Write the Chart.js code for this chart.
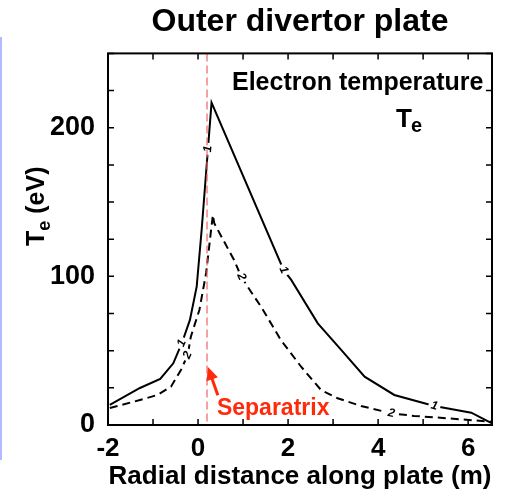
<!DOCTYPE html>
<html lang="en">
<head>
<meta charset="UTF-8">
<title>Outer divertor plate</title>
<style>
  body { margin: 0; padding: 0; background: #fff; }
  #chart { display: block; }
</style>
</head>
<body>
<canvas id="chart" width="510" height="496"></canvas>
<script src="https://cdn.jsdelivr.net/npm/chart.js"></script>
<script>
// values
var solidX = [-1.96, -1.29, -0.84, -0.55, -0.36, -0.18, -0.03, 0.08, 0.25, 0.30, 1.90, 2.07, 2.66, 3.18, 3.70, 4.36, 5.25, 6.07, 6.53];
var solidY = [13.5, 24.9, 31.0, 41.5, 55.0, 70.7, 93.1, 131.2, 197.4, 216.9, 104.3, 97.6, 68.4, 50.5, 32.5, 20.2, 12.8, 8.3, 1.1];

var dashX = [-1.96, -1.29, -0.90, -0.60, -0.38, -0.23, -0.16, 0.03, 0.18, 0.29, 0.33, 0.36, 0.80, 0.96, 1.10, 1.40, 1.84, 2.29, 2.73, 3.10, 3.62, 4.29, 4.80, 5.55, 6.51];
var dashY = [11.4, 16.8, 20.2, 25.8, 37.0, 47.1, 59.4, 77.4, 102.3, 131.2, 141.3, 135.7, 111.0, 99.8, 93.1, 79.6, 57.2, 39.2, 23.6, 18.0, 12.8, 7.9, 6.1, 4.5, 2.2];

// inline contour-style labels on the curves (x position of each label)
var solidLabelX = [0.22, -0.36, 1.90, 5.25];
var dashLabelX = [-0.23, 0.96, 4.29];

var xMin = -2, xMax = 6.53;
var yMin = 0, yMax = 250;
var separatrixX = 0.2;

var FONT = "'Liberation Sans', Arial, Helvetica, sans-serif";
var RED = '#ff2a0c';

function toPoints(xs, ys) {
    return xs.map(function(x, i) { return { x: x, y: ys[i] }; });
}

function labelEvery(step) {
    return function(v) { return v % step === 0 ? v : ''; };
}

// where a given x sits on a drawn curve, in pixels, plus its slope angle
function pointOnCurve(meta, px) {
    var pts = meta.data;
    for (var i = 0; i < pts.length - 1; i++) {
        if (px >= pts[i].x && px <= pts[i + 1].x) {
            var dx = pts[i + 1].x - pts[i].x, dy = pts[i + 1].y - pts[i].y;
            var t = dx ? (px - pts[i].x) / dx : 0;
            return { x: px, y: pts[i].y + t * dy, a: Math.atan2(dy, dx) };
        }
    }
    return null;
}

var framePlugin = {
    id: 'frame',
    beforeDraw: function(chart) {
        var ctx = chart.ctx;
        ctx.save();
        ctx.fillStyle = '#fff';
        ctx.fillRect(0, 0, chart.width, chart.height);
        // faint blue edge from the slide
        ctx.strokeStyle = '#b4baff';
        ctx.lineWidth = 2;
        ctx.beginPath();
        ctx.moveTo(1, 37);
        ctx.lineTo(1, 460);
        ctx.stroke();
        ctx.restore();
    },
    afterDatasetsDraw: function(chart) {
        var ctx = chart.ctx, a = chart.chartArea, xs = chart.scales.x;

        // curve labels "1" and "2"
        var groups = [[0, solidLabelX, '1'], [1, dashLabelX, '2']];
        ctx.save();
        ctx.font = 'bold italic 12px ' + FONT;
        ctx.textAlign = 'center';
        ctx.textBaseline = 'middle';
        groups.forEach(function(g) {
            var meta = chart.getDatasetMeta(g[0]);
            g[1].forEach(function(xv) {
                var p = pointOnCurve(meta, xs.getPixelForValue(xv));
                if (!p) return;
                ctx.save();
                ctx.translate(p.x, p.y);
                ctx.rotate(p.a);
                ctx.fillStyle = '#fff';
                ctx.fillRect(-6, -5, 12, 10);
                ctx.fillStyle = '#000';
                ctx.fillText(g[2], 0, 0);
                ctx.restore();
            });
        });
        ctx.restore();

        // separatrix dashed line
        var sx = xs.getPixelForValue(separatrixX);
        ctx.save();
        ctx.strokeStyle = 'rgba(240, 100, 100, 0.8)';
        ctx.lineWidth = 1.5;
        ctx.setLineDash([8, 4]);
        ctx.beginPath();
        ctx.moveTo(sx, a.top);
        ctx.lineTo(sx, a.bottom);
        ctx.stroke();
        ctx.restore();
    },
    afterDraw: function(chart) {
        var ctx = chart.ctx, a = chart.chartArea, xs = chart.scales.x, ys = chart.scales.y;
        ctx.save();
        ctx.strokeStyle = '#000';
        ctx.lineWidth = 2;
        ctx.strokeRect(a.left, a.top, a.right - a.left, a.bottom - a.top);
        // inward ticks on all four sides
        ctx.lineWidth = 1.5;
        ctx.beginPath();
        xs.ticks.forEach(function(t) {
            var p = xs.getPixelForValue(t.value);
            ctx.moveTo(p, a.bottom); ctx.lineTo(p, a.bottom - 6);
            ctx.moveTo(p, a.top); ctx.lineTo(p, a.top + 6);
        });
        ys.ticks.forEach(function(t) {
            var p = ys.getPixelForValue(t.value);
            ctx.moveTo(a.left, p); ctx.lineTo(a.left + 6, p);
            ctx.moveTo(a.right, p); ctx.lineTo(a.right - 6, p);
        });
        ctx.stroke();

        // y axis title: T_e (eV)
        ctx.save();
        ctx.translate(35, 246);
        ctx.rotate(-Math.PI / 2);
        ctx.fillStyle = '#000';
        ctx.textAlign = 'left';
        ctx.textBaseline = 'alphabetic';
        ctx.font = 'bold 25px ' + FONT;
        ctx.fillText('T', 0, 9);
        var w = ctx.measureText('T').width;
        ctx.font = 'bold 18px ' + FONT;
        ctx.fillText('e', w, 15);
        w += ctx.measureText('e').width;
        ctx.font = 'bold 25px ' + FONT;
        ctx.fillText(' (eV)', w, 9);
        ctx.restore();

        // annotation text top right
        ctx.fillStyle = '#000';
        ctx.textAlign = 'left';
        ctx.textBaseline = 'alphabetic';
        ctx.font = 'bold 25px ' + FONT;
        ctx.fillText('Electron temperature', 232, 90);
        ctx.font = 'bold 26px ' + FONT;
        ctx.fillText('T', 396, 127);
        ctx.font = 'bold 20px ' + FONT;
        ctx.fillText('e', 411, 132);

        // separatrix arrow + label
        var tipX = xs.getPixelForValue(0.22), tipY = ys.getPixelForValue(39);
        var tailX = xs.getPixelForValue(0.44), tailY = ys.getPixelForValue(20);
        var ang = Math.atan2(tipY - tailY, tipX - tailX);
        ctx.strokeStyle = RED;
        ctx.fillStyle = RED;
        ctx.lineWidth = 3;
        ctx.beginPath();
        ctx.moveTo(tailX, tailY);
        ctx.lineTo(tipX - 10 * Math.cos(ang), tipY - 10 * Math.sin(ang));
        ctx.stroke();
        ctx.beginPath();
        ctx.moveTo(tipX, tipY);
        ctx.lineTo(tipX - 13 * Math.cos(ang) + 6 * Math.sin(ang), tipY - 13 * Math.sin(ang) - 6 * Math.cos(ang));
        ctx.lineTo(tipX - 13 * Math.cos(ang) - 6 * Math.sin(ang), tipY - 13 * Math.sin(ang) + 6 * Math.cos(ang));
        ctx.closePath();
        ctx.fill();
        ctx.font = 'bold 23px ' + FONT;
        ctx.fillText('Separatrix', xs.getPixelForValue(0.42), ys.getPixelForValue(7));
        ctx.restore();
    }
};

var ctx = document.getElementById('chart').getContext('2d');
var chart = new Chart(ctx, {
    type: 'line',
    data: {
        datasets: [{
            label: '1',
            data: toPoints(solidX, solidY),
            borderColor: '#000',
            borderWidth: 2,
            pointRadius: 0,
            tension: 0,
            fill: false
        }, {
            label: '2',
            data: toPoints(dashX, dashY),
            borderColor: '#000',
            borderWidth: 2,
            borderDash: [8, 5],
            pointRadius: 0,
            tension: 0,
            fill: false
        }]
    },
    options: {
        responsive: false,
        animation: false,
        layout: { padding: { left: 0, right: 18, top: 0, bottom: 0 } },
        plugins: {
            legend: { display: false },
            tooltip: { enabled: false },
            title: {
                display: true,
                fullSize: false,
                text: 'Outer divertor plate',
                color: '#000',
                font: { family: FONT, size: 32, weight: 'bold' },
                padding: { top: 3, bottom: 12 }
            }
        },
        scales: {
            x: {
                type: 'linear',
                min: xMin,
                max: xMax,
                grid: { display: false, drawTicks: false },
                border: { display: false },
                ticks: {
                    stepSize: 1,
                    includeBounds: false,
                    autoSkip: false,
                    maxRotation: 0,
                    padding: 8,
                    color: '#000',
                    font: { family: FONT, size: 26, weight: 'bold' },
                    callback: labelEvery(2)
                },
                title: {
                    display: true,
                    text: 'Radial distance along plate (m)',
                    color: '#000',
                    font: { family: FONT, size: 26, weight: 'bold' },
                    padding: { top: 0, bottom: 4 }
                },
                afterFit: function(s) { s.height = 71; }
            },
            y: {
                type: 'linear',
                min: yMin,
                max: yMax,
                grid: { display: false, drawTicks: false },
                border: { display: false },
                ticks: {
                    stepSize: 25,
                    autoSkip: false,
                    padding: 13,
                    color: '#000',
                    font: { family: FONT, size: 27, weight: 'bold' },
                    callback: labelEvery(100)
                },
                afterFit: function(s) { s.width = 108; }
            }
        }
    },
    plugins: [framePlugin]
});
</script>
</body>
</html>
